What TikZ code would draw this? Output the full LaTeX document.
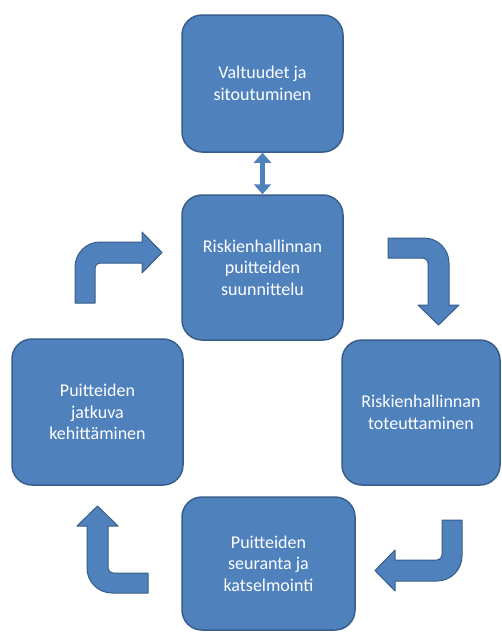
\documentclass[tikz,border=0pt]{standalone}
\usepackage{fontspec}
\setmainfont{Carlito}
\usetikzlibrary{arrows.meta}
\definecolor{boxfill}{RGB}{79,129,189}
\definecolor{boxedge}{RGB}{56,93,138}
\tikzset{
  box/.style={draw=boxedge,fill=boxfill,line width=1.5pt,rounded corners=20pt,
    text=white,align=center,inner sep=0pt,font=\fontsize{18}{21.5}\selectfont},
  bent/.style={draw=boxedge,fill=boxfill,line width=1pt,line join=round},
  updown/.style={boxfill,line width=5pt,
    {Triangle[width=17pt,length=10pt]}-{Triangle[width=17pt,length=10pt]}}
}
\begin{document}
\begin{tikzpicture}[x=1pt,y=-1pt]
            \useasboundingbox (0,0) rectangle (502,633);

            % The five boxes of the cycle
            \node [box,minimum width=161pt,minimum height=137pt] (valtuudet) at (262.5,83.5) {Valtuudet ja\\sitoutuminen};
            \node [box,minimum width=161pt,minimum height=145pt] (suunnittelu) at (262.5,267.5) {Riskienhallinnan\\puitteiden\\suunnittelu};
            \node [box,minimum width=158pt,minimum height=145pt] (toteutus) at (421,412.5) {Riskienhallinnan\\toteuttaminen};
            \node [box,minimum width=173pt,minimum height=133pt] (seuranta) at (268.5,563.5) {Puitteiden\\seuranta ja\\katselmointi};
            \node [box,minimum width=171pt,minimum height=146pt] (kehitys) at (97.5,412) {Puitteiden\\jatkuva\\kehitt\"aminen};

            % Two-way link between the top boxes
            \draw [updown] (valtuudet.south) -- (suunnittelu.north);

            % The bent arrows, one shape turned a quarter each time
            \foreach \px/\py/\rot in {75/303/0, 388/238/-90, 462/520/180, 148/593/90} {
              \begin{scope}[shift={(\px,\py)},rotate=\rot,x=1pt,y=1pt]
                \draw [bent] (0,0) -- (0,36) arc [start angle=180,end angle=90,radius=25]
                  -- (67,61) -- (67,71) -- (87,50.5) -- (67,30) -- (67,40) -- (25,40)
                  arc [start angle=90,end angle=180,radius=5] -- (20,0) -- cycle;
              \end{scope}
            }
        \end{tikzpicture}
\end{document}
